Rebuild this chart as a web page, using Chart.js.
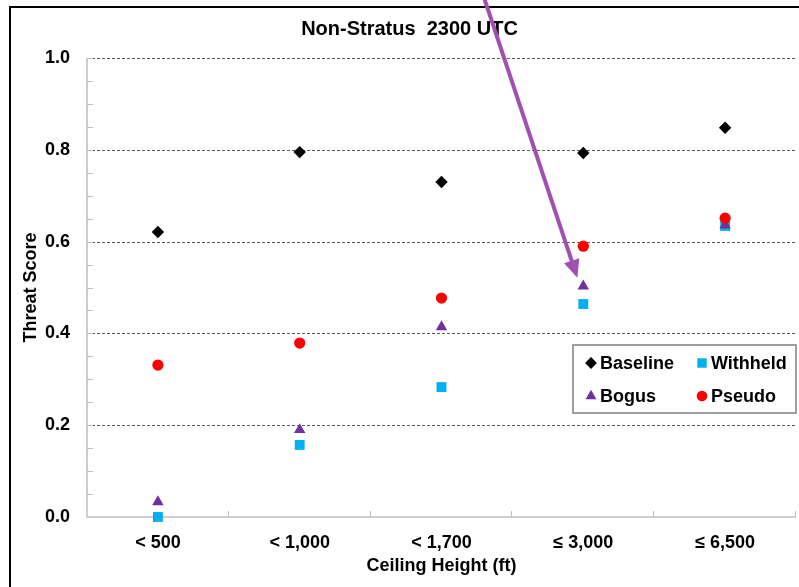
<!DOCTYPE html>
<html><head><meta charset="utf-8">
<script src="https://cdn.jsdelivr.net/npm/chart.js@4/dist/chart.umd.min.js"></script>
<style>
html,body{margin:0;padding:0;background:#fff;}
#wrap{position:relative;width:799px;height:587px;}
</style></head><body>
<div id="wrap"><canvas id="c" width="799" height="587"></canvas></div>
<script>
const categories = ['< 500', '< 1,000', '< 1,700', '≤ 3,000', '≤ 6,500'];
const baseline = [0.621, 0.795, 0.730, 0.793, 0.848];
const withheld = [0.000, 0.157, 0.283, 0.464, 0.634];
const bogus    = [0.033, 0.190, 0.414, 0.503, 0.636];
const pseudo   = [0.331, 0.379, 0.477, 0.590, 0.651];
const yTicks = [0.0, 0.2, 0.4, 0.6, 0.8, 1.0];
const yMinorTicks = [0.05,0.1,0.15,0.2,0.25,0.3,0.35,0.4,0.45,0.5,0.55,0.6,0.65,0.7,0.75,0.8,0.85,0.9,0.95,1.0];
const arrowFrom = {x: 2.296, y: 1.135};
const arrowTo   = {x: 2.958, y: 0.521};

const FONT = '"Liberation Sans", Arial, sans-serif';

const framePlugin = {
  id: 'frame',
  beforeDraw(chart) {
    const ctx = chart.ctx;
    ctx.save();
    ctx.fillStyle = '#fff';
    ctx.fillRect(0, 0, chart.width, chart.height);
    ctx.strokeStyle = '#000';
    ctx.lineWidth = 2;
    ctx.beginPath();
    ctx.moveTo(10, chart.height);
    ctx.lineTo(10, 7);
    ctx.lineTo(chart.width, 7);
    ctx.stroke();
    ctx.fillStyle = '#000';
    ctx.font = 'bold 20px ' + FONT;
    ctx.textAlign = 'center';
    ctx.textBaseline = 'middle';
    ctx.fillText('Non-Stratus  2300 UTC', chart.width / 2 + 10, 29);
    ctx.restore();
  }
};

const gridPlugin = {
  id: 'gridDraw',
  beforeDatasetsDraw(chart) {
    const {ctx, chartArea: a, scales: {x, y}} = chart;
    ctx.save();
    ctx.strokeStyle = '#5a5a5a';
    ctx.lineWidth = 1;
    ctx.setLineDash([3, 2]);
    yTicks.forEach(v => {
      if (v <= 0) return;
      const py = Math.round(y.getPixelForValue(v)) + 0.5;
      ctx.beginPath();
      ctx.moveTo(a.left, py);
      ctx.lineTo(a.right, py);
      ctx.stroke();
    });
    ctx.setLineDash([]);
    ctx.strokeStyle = '#bfbfbf';
    ctx.lineWidth = 1.5;
    ctx.beginPath();
    ctx.moveTo(a.left, a.top);
    ctx.lineTo(a.left, a.bottom);
    ctx.lineTo(a.right, a.bottom);
    ctx.stroke();
    ctx.lineWidth = 1;
    yMinorTicks.forEach(v => {
      const py = Math.round(y.getPixelForValue(v)) + 0.5;
      ctx.beginPath();
      ctx.moveTo(a.left, py);
      ctx.lineTo(a.left + 6, py);
      ctx.stroke();
    });
    const n = categories.length;
    const step = x.getPixelForValue(1) - x.getPixelForValue(0);
    for (let i = 0; i < n; i++) {
      const px = Math.round(x.getPixelForValue(i) + step / 2) - 0.5;
      ctx.beginPath();
      ctx.moveTo(px, a.bottom);
      ctx.lineTo(px, a.bottom - 6);
      ctx.stroke();
    }
    ctx.restore();
  }
};

const legendPlugin = {
  id: 'boxLegend',
  afterDatasetsDraw(chart) {
    const {ctx, chartArea: a} = chart;
    const bx = a.right - 223, by = a.bottom - 172, bw = 223, bh = 68;
    ctx.save();
    ctx.fillStyle = '#fff';
    ctx.fillRect(bx, by, bw, bh);
    ctx.strokeStyle = '#808080';
    ctx.lineWidth = 1.5;
    ctx.strokeRect(bx, by, bw, bh);
    const order = [0, 1, 2, 3];
    const cols = [bx + 18, bx + 129];
    const rows = [by + 18, by + 51];
    ctx.font = 'bold 18px ' + FONT;
    ctx.textBaseline = 'middle';
    ctx.textAlign = 'left';
    order.forEach((di, k) => {
      const ds = chart.data.datasets[di];
      const cx = cols[k % 2], cy = rows[Math.floor(k / 2)];
      ctx.fillStyle = ds.backgroundColor;
      ctx.strokeStyle = ds.backgroundColor;
      Chart.helpers.drawPoint(ctx, {pointStyle: ds.pointStyle, radius: ds.pointRadius * 0.95, rotation: 0, borderWidth: 0}, cx, cy);
      ctx.fillStyle = '#000';
      ctx.fillText(ds.label, cx + 9, cy + 1);
    });
    ctx.restore();
  }
};

const arrowPlugin = {
  id: 'arrow',
  afterDraw(chart) {
    const {ctx, scales: {x, y}} = chart;
    const x1 = x.getPixelForValue(arrowFrom.x), y1 = y.getPixelForValue(arrowFrom.y);
    const x2 = x.getPixelForValue(arrowTo.x), y2 = y.getPixelForValue(arrowTo.y);
    const ang = Math.atan2(y2 - y1, x2 - x1);
    const hl = 18, hw = 8;
    const bxp = x2 - hl * Math.cos(ang), byp = y2 - hl * Math.sin(ang);
    ctx.save();
    ctx.strokeStyle = '#A24FB4';
    ctx.fillStyle = '#A24FB4';
    ctx.lineWidth = 4;
    ctx.beginPath();
    ctx.moveTo(x1, y1);
    ctx.lineTo(bxp + 2 * Math.cos(ang), byp + 2 * Math.sin(ang));
    ctx.stroke();
    ctx.beginPath();
    ctx.moveTo(x2, y2);
    ctx.lineTo(bxp + hw * Math.sin(ang), byp - hw * Math.cos(ang));
    ctx.lineTo(bxp - hw * Math.sin(ang), byp + hw * Math.cos(ang));
    ctx.closePath();
    ctx.fill();
    ctx.restore();
  }
};

function ds(label, data, color, style, r, order) {
  return {
    label, data, order,
    showLine: false,
    pointStyle: style,
    pointRadius: r,
    pointHoverRadius: r,
    pointBorderWidth: 0,
    pointBackgroundColor: color,
    pointBorderColor: color,
    backgroundColor: color,
    borderColor: color,
    clip: false
  };
}

new Chart(document.getElementById('c'), {
  type: 'line',
  data: {
    labels: categories,
    datasets: [
      ds('Baseline', baseline, '#000000', 'rectRot', 6.2, 3),
      ds('Withheld', withheld, '#00B0F0', 'rect', 7, 2),
      ds('Bogus', bogus, '#7030A0', 'triangle', 6.6, 1),
      ds('Pseudo', pseudo, '#FF0000', 'circle', 5.6, 0)
    ]
  },
  options: {
    responsive: false,
    animation: false,
    events: [],
    layout: {autoPadding: false, padding: {left: 0, right: 3, top: 58, bottom: 0}},
    plugins: {legend: {display: false}, title: {display: false}, tooltip: {enabled: false}},
    scales: {
      x: {
        type: 'category',
        offset: true,
        grid: {display: false, drawTicks: false},
        border: {display: false},
        ticks: {color: '#000', font: {family: FONT, size: 18, weight: 'bold'}, padding: 15, maxRotation: 0, autoSkip: false},
        title: {display: true, text: 'Ceiling Height (ft)', color: '#000', font: {family: FONT, size: 18, weight: 'bold'}, padding: {top: 0, bottom: 10}},
        afterFit(s) { s.height = 70; s.paddingLeft = 0; s.paddingRight = 0; }
      },
      y: {
        min: 0, max: 1,
        afterBuildTicks(s) { s.ticks = yTicks.map(v => ({value: v})); },
        grid: {display: false, drawTicks: false},
        border: {display: false},
        ticks: {color: '#000', font: {family: FONT, size: 18, weight: 'bold'}, padding: 17, callback: v => Number(v).toFixed(1)},
        title: {display: true, text: 'Threat Score', color: '#000', font: {family: FONT, size: 18, weight: 'bold'}, padding: {top: 20, bottom: 0}},
        afterFit(s) { s.width = 87; s.paddingTop = 0; s.paddingBottom = 0; }
      }
    }
  },
  plugins: [framePlugin, gridPlugin, legendPlugin, arrowPlugin]
});
</script>
</body></html>
